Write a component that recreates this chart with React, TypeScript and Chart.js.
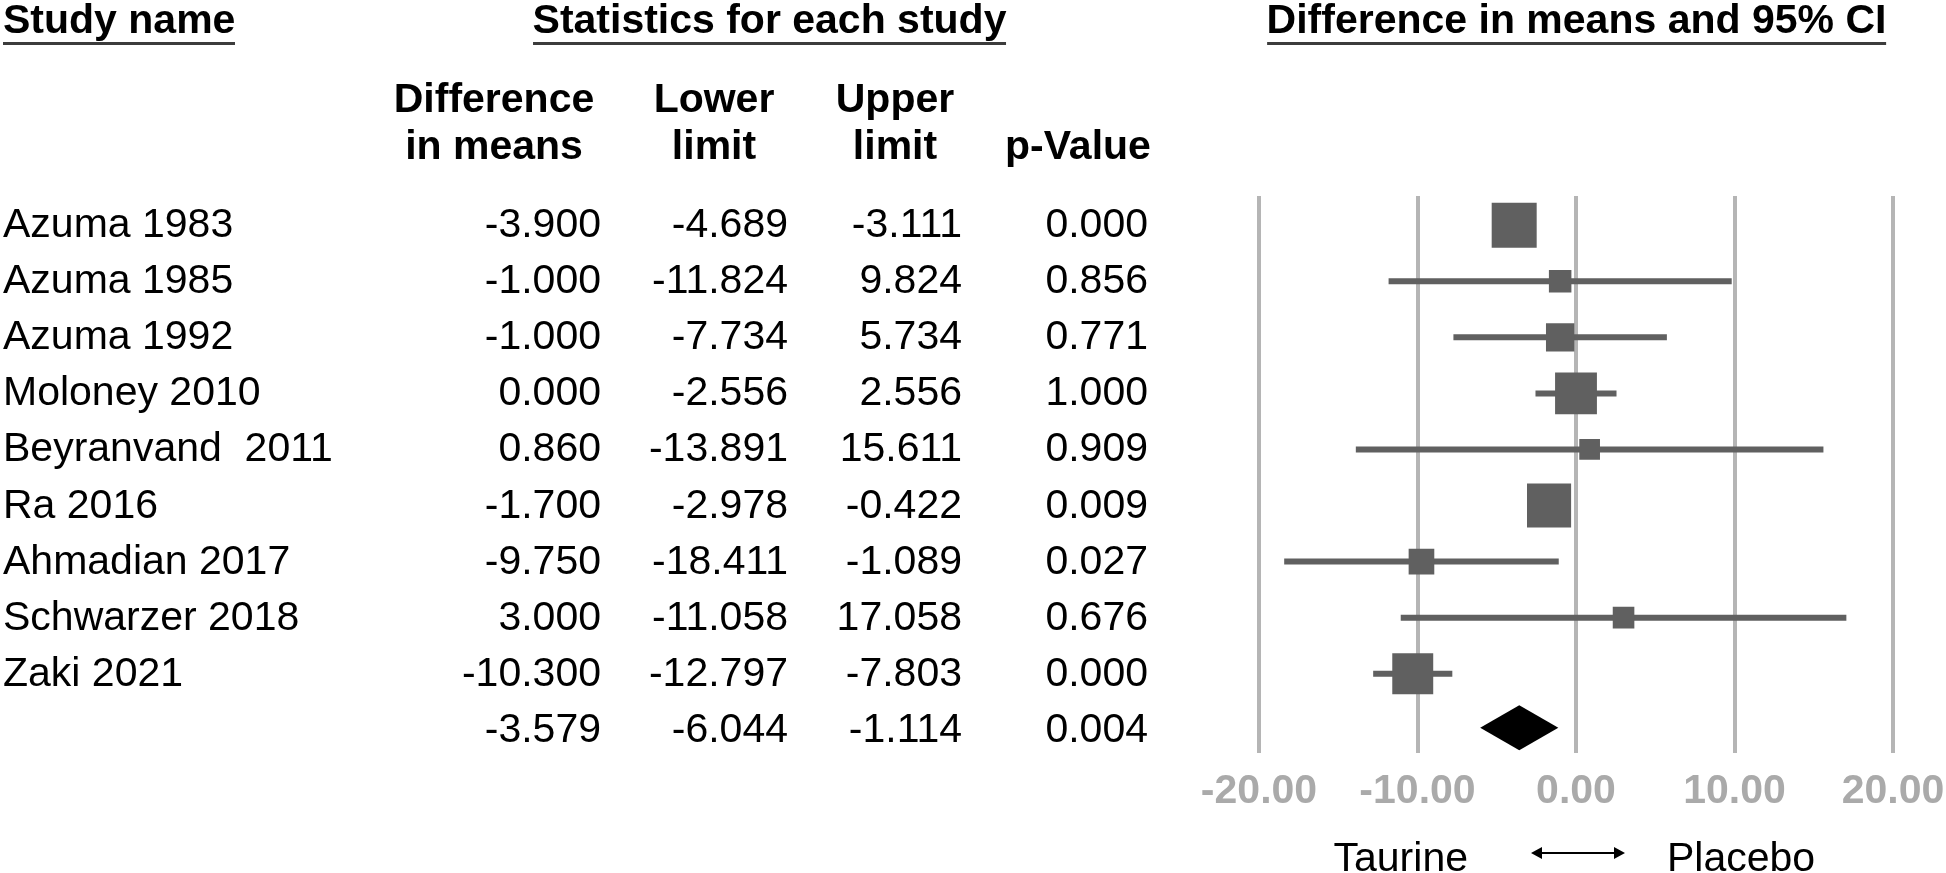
import React, { useEffect, useRef, useState } from "react";
import { Chart, registerables } from "chart.js";

Chart.register(...registerables);

// ---------------- data ----------------
const studyNames = [
  "Azuma 1983",
  "Azuma 1985",
  "Azuma 1992",
  "Moloney 2010",
  "Beyranvand  2011",
  "Ra 2016",
  "Ahmadian 2017",
  "Schwarzer 2018",
  "Zaki 2021",
];
const diffInMeans = [-3.9, -1.0, -1.0, 0.0, 0.86, -1.7, -9.75, 3.0, -10.3];
const lowerLimit = [-4.689, -11.824, -7.734, -2.556, -13.891, -2.978, -18.411, -11.058, -12.797];
const upperLimit = [-3.111, 9.824, 5.734, 2.556, 15.611, -0.422, -1.089, 17.058, -7.803];
const pValues = [0.0, 0.856, 0.771, 1.0, 0.909, 0.009, 0.027, 0.676, 0.0];
// relative study weight (% of the largest box)
const relWeight = [100, 50, 63, 93, 46, 98, 57, 48, 91];
const pooledDiff = -3.579;
const pooledLower = -6.044;
const pooledUpper = -1.114;
const pooledP = 0.004;
const xTickValues = [-20, -10, 0, 10, 20];
const leftLabel = "Taurine";
const rightLabel = "Placebo";

// ---------------- styles ----------------
const FONT = "'Liberation Sans', Arial, Helvetica, sans-serif";
const MARK = "#606060";
const GRID = "#b5b5b5";
const TICK = "#aaaaaa";
const MAX_BOX = 45;

const forestExtras = {
  id: "forestExtras",
  afterDatasetsDraw(chart: any) {
    const { ctx, scales } = chart;
    const x = scales.x;
    const y = scales.y;
    const yc = y.getPixelForValue(studyNames.length) - 2;
    const xl = x.getPixelForValue(pooledLower);
    const xm = x.getPixelForValue(pooledDiff);
    const xu = x.getPixelForValue(pooledUpper);
    ctx.save();
    ctx.fillStyle = "#000";
    ctx.beginPath();
    ctx.moveTo(xl, yc);
    ctx.lineTo(xm, yc - 22.5);
    ctx.lineTo(xu, yc);
    ctx.lineTo(xm, yc + 22.5);
    ctx.closePath();
    ctx.fill();

    // double arrow under the axis
    const x0 = x.getPixelForValue(0) + 2;
    const ay = 853;
    const half = 47;
    ctx.strokeStyle = "#000";
    ctx.lineWidth = 2;
    ctx.beginPath();
    ctx.moveTo(x0 - half + 6, ay);
    ctx.lineTo(x0 + half - 6, ay);
    ctx.stroke();
    ctx.beginPath();
    ctx.moveTo(x0 - half, ay);
    ctx.lineTo(x0 - half + 11, ay - 6);
    ctx.lineTo(x0 - half + 11, ay + 6);
    ctx.closePath();
    ctx.moveTo(x0 + half, ay);
    ctx.lineTo(x0 + half - 11, ay - 6);
    ctx.lineTo(x0 + half - 11, ay + 6);
    ctx.closePath();
    ctx.fill();
    ctx.restore();
  },
};

export default function App() {
  const canvasRef = useRef<HTMLCanvasElement>(null);
  const [rowY, setRowY] = useState<number[]>([]);

  useEffect(() => {
    if (!canvasRef.current) return;
    const ciData: any[] = [];
    studyNames.forEach((_, i) => {
      ciData.push({ x: lowerLimit[i], y: i });
      ciData.push({ x: upperLimit[i], y: i });
      ciData.push({ x: upperLimit[i], y: null });
    });
    const boxData = diffInMeans.map((d, i) => ({ x: d, y: i }));

    const chart = new Chart(canvasRef.current, {
      type: "scatter",
      data: {
        datasets: [
          {
            label: "Difference in means",
            data: boxData,
            pointStyle: "rect",
            pointRadius: relWeight.map((w) => (MAX_BOX * w) / 100 / Math.SQRT2),
            pointHoverRadius: relWeight.map((w) => (MAX_BOX * w) / 100 / Math.SQRT2),
            backgroundColor: MARK,
            borderColor: MARK,
            pointBorderWidth: 0,
            order: 0,
          } as any,
          {
            label: "95% CI",
            data: ciData,
            showLine: true,
            spanGaps: false,
            borderColor: MARK,
            borderWidth: 6,
            borderCapStyle: "butt",
            pointRadius: 0,
            pointHoverRadius: 0,
            order: 1,
          } as any,
        ],
      },
      options: {
        animation: false,
        responsive: false,
        events: [],
        layout: { padding: { left: 1259, right: 53, top: 196, bottom: 43 } },
        plugins: { legend: { display: false }, tooltip: { enabled: false } },
        scales: {
          x: {
            type: "linear",
            min: xTickValues[0],
            max: xTickValues[xTickValues.length - 1],
            afterBuildTicks: (scale: any) => {
              scale.ticks = xTickValues.map((v) => ({ value: v }));
            },
            afterFit: (scale: any) => {
              scale.paddingLeft = 0;
              scale.paddingRight = 0;
            },
            ticks: {
              font: { family: FONT, size: 41, weight: "bold" },
              color: TICK,
              padding: 14,
              maxRotation: 0,
              callback: (v: any) => Number(v).toFixed(2),
            },
            grid: { color: GRID, lineWidth: 4, drawTicks: false },
            border: { display: false },
          },
          y: {
            type: "linear",
            display: false,
            reverse: true,
            min: -0.52,
            max: 9.41,
          },
        },
      } as any,
      plugins: [forestExtras],
    });
    setRowY(
      Array.from({ length: studyNames.length + 1 }, (_, i) => chart.scales.y.getPixelForValue(i))
    );
    return () => chart.destroy();
  }, []);

  const base: React.CSSProperties = {
    position: "absolute",
    fontFamily: FONT,
    fontSize: 41,
    lineHeight: "41px",
    color: "#000",
    whiteSpace: "pre",
  };
  const bold: React.CSSProperties = { ...base, fontWeight: "bold" };
  const underline: React.CSSProperties = {
    paddingBottom: 2,
    borderBottom: "3px solid #3c3c3c",
  };
  const colRight = [601, 788, 962, 1148];
  const colHeadCenter = [494, 714, 895, 1078];
  const fmt = (v: number) => v.toFixed(3);

  const rowValues = (i: number) =>
    i < studyNames.length
      ? [diffInMeans[i], lowerLimit[i], upperLimit[i], pValues[i]]
      : [pooledDiff, pooledLower, pooledUpper, pooledP];

  return (
    <div
      style={{
        position: "fixed",
        left: 0,
        top: 0,
        width: 1946,
        height: 873,
        background: "#fff",
        overflow: "hidden",
      }}
    >
      <canvas ref={canvasRef} width={1946} height={873} style={{ position: "absolute", left: 0, top: 0 }} />

      <div style={{ ...bold, ...underline, left: 3, top: -1 }}>Study name</div>
      <div style={{ ...bold, ...underline, left: 769.5, top: -1, transform: "translateX(-50%)" }}>
        Statistics for each study
      </div>
      <div style={{ ...bold, ...underline, left: 1576.5, top: -1, transform: "translateX(-50%)" }}>
        Difference in means and 95% CI
      </div>

      {[
        ["Difference", "in means"],
        ["Lower", "limit"],
        ["Upper", "limit"],
        ["", "p-Value"],
      ].map((lines, c) => (
        <div
          key={"h" + c}
          style={{
            ...bold,
            lineHeight: "47px",
            left: colHeadCenter[c] - 150,
            width: 300,
            top: 75,
            textAlign: "center",
          }}
        >
          {lines[0] || "\u00a0"}
          <br />
          {lines[1]}
        </div>
      ))}

      {rowY.map((yc, i) => (
        <React.Fragment key={"r" + i}>
          {i < studyNames.length && (
            <div style={{ ...base, left: 3, top: yc - 22 }}>{studyNames[i]}</div>
          )}
          {rowValues(i).map((v, c) => (
            <div
              key={c}
              style={{ ...base, left: colRight[c] - 200, width: 200, textAlign: "right", top: yc - 22 }}
            >
              {fmt(v)}
            </div>
          ))}
        </React.Fragment>
      ))}

      <div style={{ ...base, right: 1946 - 1468, top: 837 }}>{leftLabel}</div>
      <div style={{ ...base, left: 1667, top: 837 }}>{rightLabel}</div>
    </div>
  );
}
